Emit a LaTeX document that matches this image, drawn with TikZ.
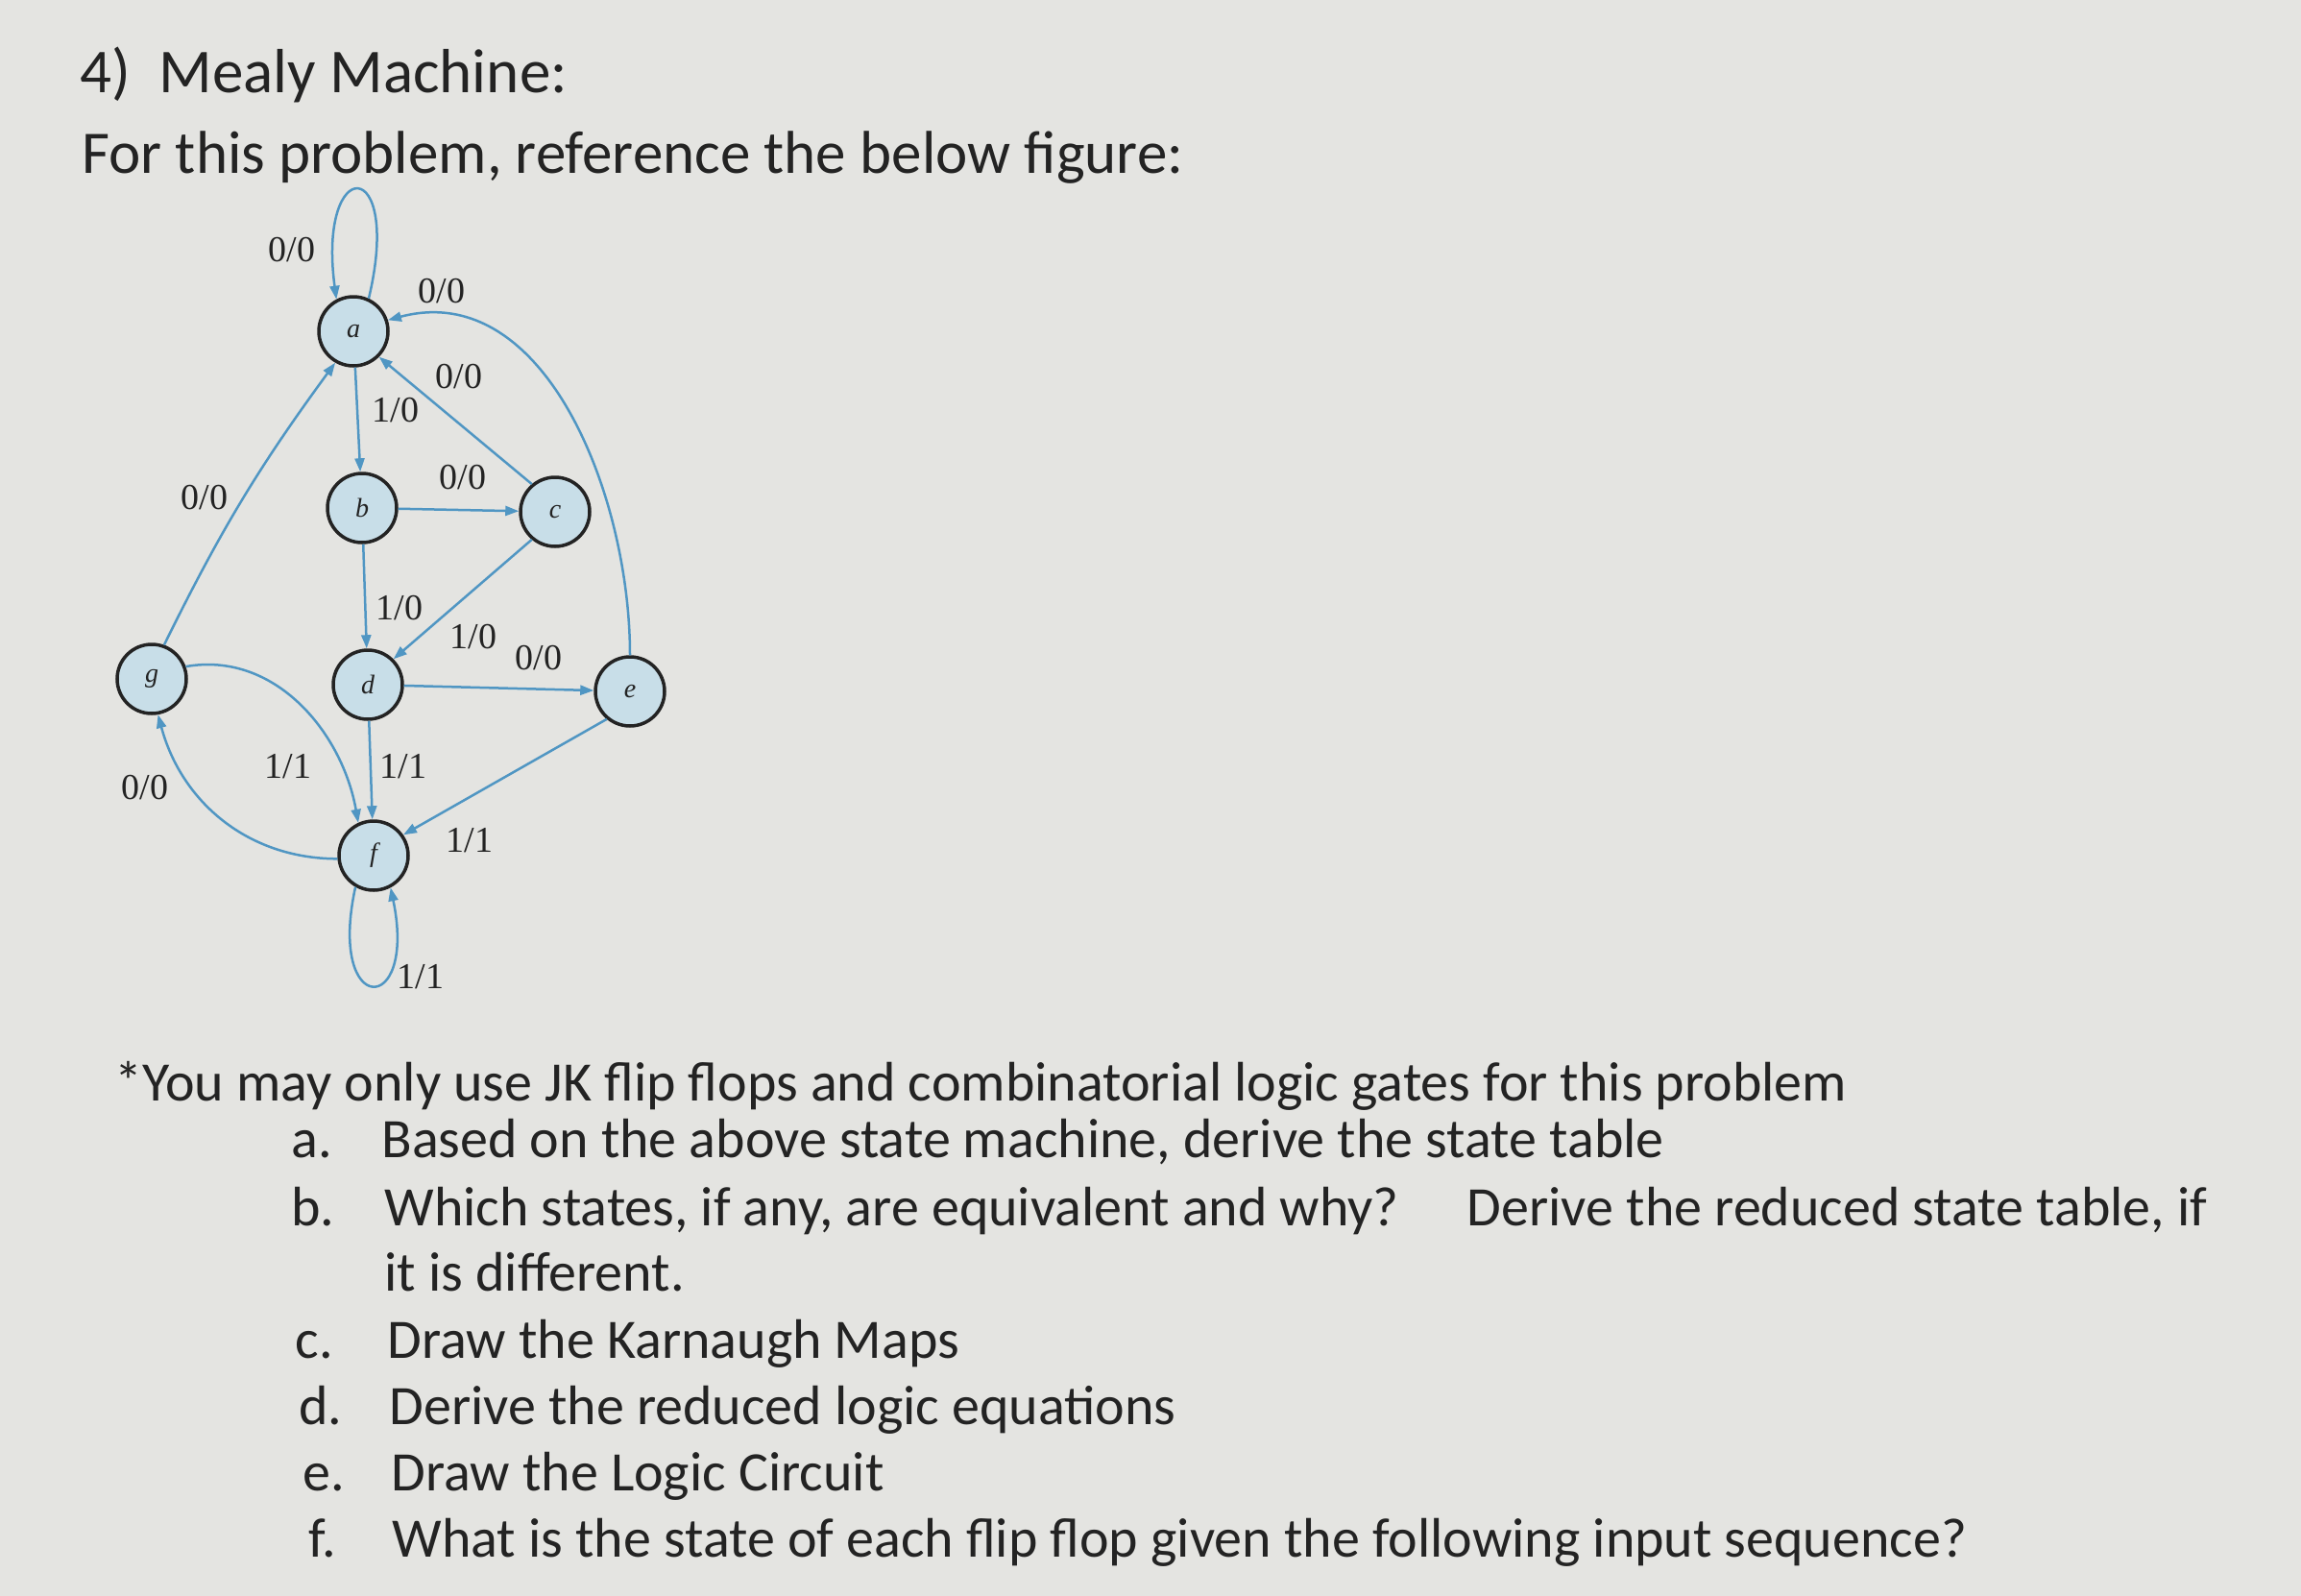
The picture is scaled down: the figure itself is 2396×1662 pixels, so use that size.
\documentclass[tikz,border=0pt]{standalone}
\usepackage{fontspec}
\setmainfont{Carlito}
\newfontfamily\diagfont{Liberation Serif}
\usetikzlibrary{arrows.meta}
\definecolor{bg}{RGB}{228,228,225}
\definecolor{edge}{RGB}{80,150,195}
\definecolor{nfill}{RGB}{200,222,232}
\definecolor{ink}{RGB}{35,35,35}
\begin{document}
\begin{tikzpicture}[x=1pt,y=-1pt,
  st/.style={circle,draw=ink,line width=3.5pt,fill=nfill,minimum size=72pt,inner sep=0pt,font=\diagfont\itshape\fontsize{28}{28}\selectfont,text=ink},
  tr/.style={draw=edge,line width=2.5pt,-{Triangle[length=14pt,width=10pt]}},
  lb/.style={font=\diagfont\fontsize{38}{38}\selectfont,text=ink},
  tx/.style={anchor=base west,font=\fontsize{58}{60}\selectfont,text=ink}]
\fill[bg] (0,0) rectangle (2396,1662);
\useasboundingbox (0,0) rectangle (2396,1662);
% texts
\node[tx,font=\fontsize{65}{66}\selectfont] (t1) at (80,96) {4)\ \ Mealy Machine:};
\node[tx,font=\fontsize{63}{66}\selectfont] (t2) at (82,180) {For this problem, reference the below figure:};
\node[tx] (t3) at (116,1146) {*You may only use JK flip flops and combinatorial logic gates for this problem};
\node[tx] (la) at (300,1205) {a.};
\node[tx] (ta) at (394,1205) {Based on the above state machine, derive the state table};
\node[tx] (lbb) at (300,1276) {b.};
\node[tx] (tb) at (397,1276) {Which states, if any, are equivalent and why?\quad\ Derive the reduced state table, if};
\node[tx] (tb2) at (397,1344) {it is different.};
\node[tx] (lc) at (304,1414) {c.};
\node[tx] (tc) at (400,1414) {Draw the Karnaugh Maps};
\node[tx] (ld) at (308,1483) {d.};
\node[tx] (td) at (402,1483) {Derive the reduced logic equations};
\node[tx] (le) at (312,1552) {e.};
\node[tx] (te) at (404,1552) {Draw the Logic Circuit};
\node[tx] (lf) at (318,1621) {f.};
\node[tx] (tf) at (405,1621) {What is the state of each flip flop given the following input sequence?};
% states
\node[st] (a) at (368,345) {a};
\node[st] (b) at (377,529) {b};
\node[st] (c) at (578,533) {c};
\node[st] (d) at (383,713) {d};
\node[st] (e) at (656,720) {e};
\node[st] (g) at (158,707) {g};
\node[st] (f) at (389,891) {f};
% transitions
\draw[tr] (a.65) .. controls (420,160) and (330,160) .. (a.118);
\draw[tr] (e.north) to[out=90,in=15] (a.18);
\draw[tr] (c.130) -- (a.-45);
\draw[tr] (a) -- (b);
\draw[tr] (g.70) to[bend left=5] (a.-120);
\draw[tr] (b) -- (c);
\draw[tr] (b) -- (d);
\draw[tr] (c.-130) -- (d.45);
\draw[tr] (d) -- (e);
\draw[tr] (g.20) to[out=10,in=100] (f.115);
\draw[tr] (f.185) to[out=180,in=-75] (g.-80);
\draw[tr] (d) -- (f);
\draw[tr] (e.-130) -- (f.35);
\draw[tr] (f.-120) .. controls (340,1060) and (435,1060) .. (f.-62);
% labels
\node[lb] (l1) at (304,260) {0/0};
\node[lb] (l2) at (460,303) {0/0};
\node[lb] (l3) at (478,392) {0/0};
\node[lb] (l4) at (412,427) {1/0};
\node[lb] (l5) at (213,518) {0/0};
\node[lb] (l6) at (482,497) {0/0};
\node[lb] (l7) at (416,633) {1/0};
\node[lb] (l8) at (493,663) {1/0};
\node[lb] (l9) at (561,685) {0/0};
\node[lb] (l10) at (300,798) {1/1};
\node[lb] (l11) at (420,798) {1/1};
\node[lb] (l12) at (151,820) {0/0};
\node[lb] (l13) at (489,875) {1/1};
\node[lb] (l14) at (438,1017) {1/1};
\end{tikzpicture}
\end{document}
